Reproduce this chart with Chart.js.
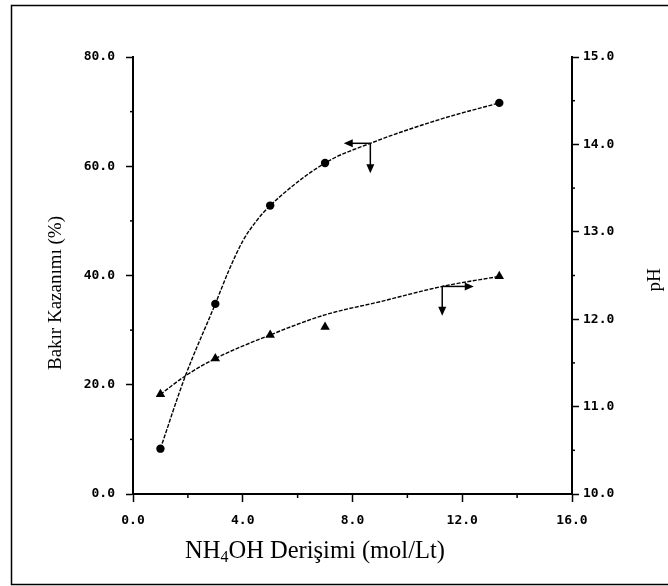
<!DOCTYPE html>
<html><head><meta charset="utf-8">
<script src="https://cdn.jsdelivr.net/npm/chart.js@4"></script>
<style>html,body{margin:0;padding:0;background:#fff;overflow:hidden}canvas{display:block}</style>
</head><body>
<canvas id="c" width="668" height="586"></canvas>
<script>
// NH4OH concentration (mol/Lt) of the measured points
const concentration = [1.0, 3.0, 5.0, 7.0, 13.35];
// Copper recovery (%) — left axis, circles
const copperRecovery = [8.3, 34.8, 52.8, 60.6, 71.6];
// pH — right axis, triangles
const pHValues = [11.14, 11.55, 11.82, 11.91, 12.49];
// Fitted curves
const copperFitX = [1.0, 1.9, 3.0, 3.5, 4.0, 4.5, 5.0, 7.0, 8.65, 11.2, 13.35];
const copperFitY = [8.3, 21.5, 34.8, 41.0, 46.3, 50.0, 52.8, 60.6, 64.2, 68.6, 71.6];
const pHFitX = [1.0, 1.9, 3.0, 5.0, 7.0, 9.0, 11.27, 13.35];
const pHFitY = [11.14, 11.35, 11.55, 11.82, 12.05, 12.2, 12.375, 12.49];
// Axis ranges / tick steps
const xTicks = [0, 16, 4];
const leftTicks = [0, 80, 20];
const rightTicks = [10, 15, 1];
// Texts
const xTitleParts = ['NH', '4', 'OH Derişimi (mol/Lt)'];
const leftTitle = 'Bakır Kazanımı (%)';
const rightTitle = 'pH';
// Arrow annotations (data units): start point, horizontal tip x, vertical tip y
const arrowMarks = [
  {axis: 'y', x: 8.65, y: 64.2, tipX: 7.68, tipY: 58.7},
  {axis: 'y1', x: 11.27, y: 12.375, tipX: 12.42, tipY: 12.04}
];

const pts = (xs, ys) => xs.map((v, i) => ({x: v, y: ys[i]}));
const tickFont = {family: '"DejaVu Sans Mono", monospace', size: 13, weight: 'bold'};

function drawArrow(ctx, x1, y1, x2, y2) {
  const a = Math.atan2(y2 - y1, x2 - x1), L = 9, W = 4;
  const c = Math.cos(a), s = Math.sin(a);
  ctx.beginPath(); ctx.moveTo(x1, y1); ctx.lineTo(x2 - c * L * 0.7, y2 - s * L * 0.7); ctx.stroke();
  ctx.beginPath(); ctx.moveTo(x2, y2);
  ctx.lineTo(x2 - c * L - s * W, y2 - s * L + c * W);
  ctx.lineTo(x2 - c * L + s * W, y2 - s * L - c * W);
  ctx.closePath(); ctx.fill();
}

const decor = {
  id: 'decor',
  beforeDraw(chart) {
    const ctx = chart.ctx;
    ctx.save();
    ctx.fillStyle = '#fff'; ctx.fillRect(0, 0, chart.width, chart.height);
    ctx.strokeStyle = '#000'; ctx.lineWidth = 1.5;
    ctx.strokeRect(11.5, 5.5, 700, 579);
    ctx.restore();
  },
  afterDraw(chart) {
    const {ctx} = chart;
    const {x, y, y1} = chart.scales;
    ctx.save();
    ctx.strokeStyle = '#000'; ctx.fillStyle = '#000'; ctx.lineWidth = 1.5;
    // minor ticks
    for (let v = xTicks[0] + xTicks[2] / 2; v < xTicks[1]; v += xTicks[2]) {
      const p = x.getPixelForValue(v);
      ctx.beginPath(); ctx.moveTo(p, x.top); ctx.lineTo(p, x.top + 4); ctx.stroke();
    }
    for (let v = leftTicks[0] + leftTicks[2] / 2; v < leftTicks[1]; v += leftTicks[2]) {
      const p = y.getPixelForValue(v);
      ctx.beginPath(); ctx.moveTo(y.right, p); ctx.lineTo(y.right - 3, p); ctx.stroke();
    }
    for (let v = rightTicks[0] + rightTicks[2] / 2; v < rightTicks[1]; v += rightTicks[2]) {
      const p = y1.getPixelForValue(v);
      ctx.beginPath(); ctx.moveTo(y1.left, p); ctx.lineTo(y1.left + 3, p); ctx.stroke();
    }
    // arrows
    arrowMarks.forEach(m => {
      const ys = chart.scales[m.axis];
      const px = x.getPixelForValue(m.x), py = ys.getPixelForValue(m.y);
      drawArrow(ctx, px, py, x.getPixelForValue(m.tipX), py);
      drawArrow(ctx, px, py, px, ys.getPixelForValue(m.tipY));
    });
    // titles
    ctx.textBaseline = 'alphabetic';
    ctx.textAlign = 'center';
    ctx.font = '19px "Liberation Serif", "Times New Roman", serif';
    ctx.save(); ctx.translate(61, 293); ctx.rotate(-Math.PI / 2); ctx.fillText(leftTitle, 0, 0); ctx.restore();
    ctx.save(); ctx.translate(660, 280); ctx.rotate(-Math.PI / 2); ctx.fillText(rightTitle, 0, 0); ctx.restore();
    // x title with subscript
    const big = '24.5px "Liberation Serif", "Times New Roman", serif';
    const small = '16px "Liberation Serif", "Times New Roman", serif';
    ctx.textAlign = 'left';
    ctx.font = big; const w0 = ctx.measureText(xTitleParts[0]).width, w2 = ctx.measureText(xTitleParts[2]).width;
    ctx.font = small; const w1 = ctx.measureText(xTitleParts[1]).width;
    let sx = 315 - (w0 + w1 + w2) / 2; const by = 558;
    ctx.font = big; ctx.fillText(xTitleParts[0], sx, by); sx += w0;
    ctx.font = small; ctx.fillText(xTitleParts[1], sx, by + 4); sx += w1;
    ctx.font = big; ctx.fillText(xTitleParts[2], sx, by);
    ctx.restore();
  }
};

const lineStyle = {borderColor: '#000', borderWidth: 1.4, borderDash: [4, 1.5], pointRadius: 0,
  cubicInterpolationMode: 'monotone', fill: false, showLine: true};

new Chart(document.getElementById('c'), {
  type: 'scatter',
  data: {
    datasets: [
      Object.assign({label: 'Bakır fit', data: pts(copperFitX, copperFitY), yAxisID: 'y'}, lineStyle),
      Object.assign({label: 'pH fit', data: pts(pHFitX, pHFitY), yAxisID: 'y1'}, lineStyle),
      {label: 'Bakır Kazanımı', data: pts(concentration, copperRecovery), yAxisID: 'y', showLine: false,
        pointStyle: 'circle', pointRadius: 4.2, backgroundColor: '#000', borderColor: '#000', borderWidth: 0},
      {label: 'pH', data: pts(concentration, pHValues), yAxisID: 'y1', showLine: false,
        pointStyle: 'triangle', pointRadius: 5.5, backgroundColor: '#000', borderColor: '#000', borderWidth: 0}
    ]
  },
  options: {
    responsive: false, animation: false, devicePixelRatio: 1,
    layout: {padding: {top: 57, left: 0, right: 0, bottom: 0}},
    plugins: {legend: {display: false}, tooltip: {enabled: false}},
    scales: {
      x: {type: 'linear', min: xTicks[0], max: xTicks[1],
        afterFit(s) { s.height = 92; },
        ticks: {stepSize: xTicks[2], padding: 11, color: '#000', font: tickFont, maxRotation: 0,
          callback: v => v.toFixed(1)},
        grid: {drawOnChartArea: false, tickLength: 8, tickColor: '#000', tickWidth: 1.5},
        border: {display: true, color: '#000', width: 2}},
      y: {type: 'linear', position: 'left', min: leftTicks[0], max: leftTicks[1],
        afterFit(s) { s.width = 133; },
        ticks: {stepSize: leftTicks[2], padding: 11, color: '#000', font: tickFont, callback: v => v.toFixed(1)},
        grid: {drawOnChartArea: false, tickLength: 7, tickColor: '#000', tickWidth: 1.5},
        border: {display: true, color: '#000', width: 2}},
      y1: {type: 'linear', position: 'right', min: rightTicks[0], max: rightTicks[1],
        afterFit(s) { s.width = 96; },
        ticks: {stepSize: rightTicks[2], padding: 4, color: '#000', font: tickFont, callback: v => v.toFixed(1)},
        grid: {drawOnChartArea: false, tickLength: 7, tickColor: '#000', tickWidth: 1.5},
        border: {display: true, color: '#000', width: 2}}
    }
  },
  plugins: [decor]
});
</script>
</body></html>
